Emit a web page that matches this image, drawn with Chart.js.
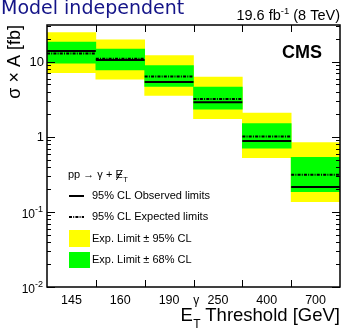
<!DOCTYPE html>
<html>
<head>
<meta charset="utf-8">
<script src="https://cdn.jsdelivr.net/npm/chart.js@4/dist/chart.umd.min.js"></script>
<style>
  html, body { margin: 0; padding: 0; background: #fff; }
  #wrap { width: 342px; height: 328px; }
</style>
</head>
<body>
<div id="wrap"><canvas id="c" width="342" height="328"></canvas></div>
<script>
// Photon E_T threshold bins
const thresholds = ['145', '160', '190', '250', '400', '700'];
// 95% CL upper limits on sigma x A [fb]
const observedLimit = [14.0, 10.6, 5.4, 2.90, 0.88, 0.215];
const expectedLimit = [12.9, 11.0, 6.4, 3.21, 1.01, 0.314];
// expected-limit bands
const band68Low  = [9.6, 7.8, 4.7, 2.34, 0.71, 0.187];
const band68High = [18.3, 14.8, 8.9, 4.6, 1.50, 0.536];
const band95Low  = [7.2, 5.9, 3.56, 1.75, 0.53, 0.137];
const band95High = [24.6, 19.7, 12.1, 6.25, 2.07, 0.84];
// y-axis decades with labels
const yDecades = [0.01, 0.1, 1, 10];
const yMin = 0.01, yMax = 31;

const FONT = '"Liberation Sans", Arial, Helvetica, sans-serif';
const YELLOW = '#ffff00';
const GREEN = '#00ff00';
const DASHDOT = [3, 1.2, 1, 1.2];

// horizontal segment per bin on the hidden linear axis (bin i spans i-0.5 .. i+0.5)
function binSegments(values) {
  const pts = [];
  values.forEach((v, i) => {
    pts.push({ x: i - 0.5, y: v });
    pts.push({ x: i + 0.5, y: v });
    pts.push({ x: i + 0.5, y: null });
  });
  return pts;
}

function drawSup(ctx, base, sup, xRight, yMid, baseSize, supSize) {
  ctx.font = baseSize + 'px ' + FONT;
  const wb = ctx.measureText(base).width;
  ctx.font = supSize + 'px ' + FONT;
  const ws = ctx.measureText(sup).width;
  const x0 = xRight - wb - ws;
  ctx.textAlign = 'left';
  ctx.textBaseline = 'alphabetic';
  ctx.font = baseSize + 'px ' + FONT;
  ctx.fillText(base, x0, yMid + baseSize * 0.38);
  ctx.font = supSize + 'px ' + FONT;
  ctx.fillText(sup, x0 + wb, yMid - baseSize * 0.05);
}

const decorations = {
  id: 'decorations',
  afterDraw(chart) {
    const ctx = chart.ctx;
    const a = chart.chartArea;
    const ys = chart.scales.y;
    const xl = chart.scales.xl;
    ctx.save();

    // ticks on y axes (left and right, pointing inward)
    ctx.strokeStyle = '#000';
    ctx.lineWidth = 1;
    for (let e = -2; e <= 1; e++) {
      for (let m = 1; m <= 9; m++) {
        const v = m * Math.pow(10, e);
        if (v < yMin || v > yMax) continue;
        const py = Math.round(ys.getPixelForValue(v)) + 0.5;
        const len = m === 1 ? 8 : 4;
        ctx.beginPath();
        ctx.moveTo(a.left, py); ctx.lineTo(a.left + len, py);
        ctx.moveTo(a.right, py); ctx.lineTo(a.right - len, py);
        ctx.stroke();
      }
    }
    // ticks at bin edges (top and bottom)
    for (let i = 0; i < thresholds.length - 1; i++) {
      const px = Math.round(xl.getPixelForValue(i + 0.5)) + 0.5;
      ctx.beginPath();
      ctx.moveTo(px, a.top); ctx.lineTo(px, a.top + 7);
      ctx.moveTo(px, a.bottom); ctx.lineTo(px, a.bottom - 7);
      ctx.stroke();
    }
    // frame
    ctx.lineWidth = 1.5;
    ctx.strokeRect(a.left, a.top, a.right - a.left, a.bottom - a.top);

    // y tick labels
    ctx.fillStyle = '#000';
    yDecades.forEach(v => {
      const py = ys.getPixelForValue(v);
      if (v >= 1) {
        ctx.font = '13px ' + FONT;
        ctx.textAlign = 'right';
        ctx.textBaseline = 'middle';
        ctx.fillText(String(v), a.left - 3, py + 1);
      } else {
        const ex = Math.round(Math.log10(v));
        drawSup(ctx, '10', String(ex), a.left - 4, py + 1, 12, 9);
      }
    });

    // y axis title
    ctx.save();
    ctx.translate(15, a.top);
    ctx.rotate(-Math.PI / 2);
    ctx.font = '18px ' + FONT;
    ctx.textAlign = 'right';
    ctx.textBaseline = 'middle';
    ctx.fillText('σ × A [fb]', 0, 0);
    ctx.restore();

    // x axis title: E_T^gamma Threshold [GeV]
    ctx.textBaseline = 'alphabetic';
    ctx.textAlign = 'left';
    const tFont = '18.5px ' + FONT;
    const sFont = '12px ' + FONT;
    ctx.font = tFont;
    const rest = ' Threshold [GeV]';
    const wRest = ctx.measureText(rest).width;
    const wE = ctx.measureText('E').width;
    ctx.font = sFont;
    const wS = Math.max(ctx.measureText('T').width, ctx.measureText('γ').width);
    const xE = a.right - wRest - wS - wE;
    const base = 321;
    ctx.font = tFont;
    ctx.fillText('E', xE, base);
    ctx.fillText(rest, xE + wE + wS, base);
    ctx.font = sFont;
    ctx.fillText('T', xE + wE + 0.5, base + 7);
    ctx.fillText('γ', xE + wE + 0.5, base - 17);

    // header texts
    ctx.font = '19px "DejaVu Sans", sans-serif';
    ctx.fillStyle = '#141488';
    ctx.fillText('Model independent', 1, 14);

    ctx.fillStyle = '#000';
    const lFont = '14.5px ' + FONT;
    const lSup = '9.5px ' + FONT;
    ctx.font = lFont;
    const p1 = '19.6 fb', p3 = ' (8 TeV)';
    const w1 = ctx.measureText(p1).width, w3 = ctx.measureText(p3).width;
    ctx.font = lSup;
    const w2 = ctx.measureText('-1').width;
    let lx = a.right - w1 - w2 - w3;
    ctx.font = lFont; ctx.fillText(p1, lx, 20);
    ctx.font = lSup; ctx.fillText('-1', lx + w1, 14);
    ctx.font = lFont; ctx.fillText(p3, lx + w1 + w2, 20);

    ctx.font = 'bold 18px ' + FONT;
    ctx.fillText('CMS', 282, 58);

    // legend
    const legX = 69, txtX = 92;
    ctx.font = '11px ' + FONT;
    ctx.textBaseline = 'middle';
    const head = 'pp → γ + ';
    ctx.fillText(head, 68, 175);
    const wh = ctx.measureText(head).width;
    const eX = 68 + wh;
    ctx.fillText('E', eX, 175);
    const weE = ctx.measureText('E').width;
    ctx.beginPath();
    ctx.lineWidth = 1;
    ctx.moveTo(eX + 1, 180); ctx.lineTo(eX + weE - 0.5, 170);
    ctx.stroke();
    ctx.font = '7.5px ' + FONT;
    ctx.fillText('T', eX + weE + 0.5, 179.5);

    ctx.font = '11px ' + FONT;
    ctx.lineWidth = 2;
    ctx.beginPath();
    ctx.moveTo(legX, 196); ctx.lineTo(legX + 15, 196);
    ctx.stroke();
    ctx.fillText('95% CL Observed limits', txtX, 196);

    ctx.setLineDash(DASHDOT);
    ctx.beginPath();
    ctx.moveTo(legX, 217); ctx.lineTo(legX + 15, 217);
    ctx.stroke();
    ctx.setLineDash([]);
    ctx.fillText('95% CL Expected limits', txtX, 217);

    ctx.fillStyle = YELLOW;
    ctx.fillRect(legX, 230, 21, 17);
    ctx.fillStyle = GREEN;
    ctx.fillRect(legX, 252, 21, 16);
    ctx.fillStyle = '#000';
    ctx.fillText('Exp. Limit ± 95% CL', txtX, 238.5);
    ctx.fillText('Exp. Limit ± 68% CL', txtX, 260);

    ctx.restore();
  }
};

const band95 = thresholds.map((_, i) => [band95Low[i], band95High[i]]);
const band68 = thresholds.map((_, i) => [band68Low[i], band68High[i]]);

new Chart(document.getElementById('c'), {
  type: 'bar',
  data: {
    labels: thresholds,
    datasets: [
      { type: 'bar', data: band95, backgroundColor: YELLOW, borderWidth: 0,
        grouped: false, categoryPercentage: 1, barPercentage: 1, order: 4, xAxisID: 'x', yAxisID: 'y' },
      { type: 'bar', data: band68, backgroundColor: GREEN, borderWidth: 0,
        grouped: false, categoryPercentage: 1, barPercentage: 1, order: 3, xAxisID: 'x', yAxisID: 'y' },
      { type: 'line', data: binSegments(expectedLimit), borderColor: '#000', borderWidth: 2,
        borderDash: DASHDOT, pointRadius: 0, spanGaps: false, order: 2, xAxisID: 'xl', yAxisID: 'y' },
      { type: 'line', data: binSegments(observedLimit), borderColor: '#000', borderWidth: 2,
        pointRadius: 0, spanGaps: false, order: 1, xAxisID: 'xl', yAxisID: 'y' }
    ]
  },
  options: {
    responsive: false,
    animation: false,
    devicePixelRatio: 1,
    layout: { padding: { left: 0, right: 2, top: 25, bottom: 0 } },
    plugins: { legend: { display: false }, tooltip: { enabled: false } },
    scales: {
      x: {
        type: 'category',
        offset: true,
        grid: { display: false, drawTicks: false },
        border: { display: false },
        ticks: { color: '#000', font: { family: FONT, size: 12.5 }, padding: 6, maxRotation: 0 },
        afterFit(s) { s.height = 41; }
      },
      xl: { type: 'linear', min: -0.5, max: 5.5, offset: false, display: false },
      y: {
        type: 'logarithmic',
        min: yMin, max: yMax,
        grid: { display: false, drawTicks: false },
        border: { display: false },
        ticks: { display: false },
        afterFit(s) { s.width = 47; }
      }
    }
  },
  plugins: [decorations]
});
</script>
</body>
</html>
